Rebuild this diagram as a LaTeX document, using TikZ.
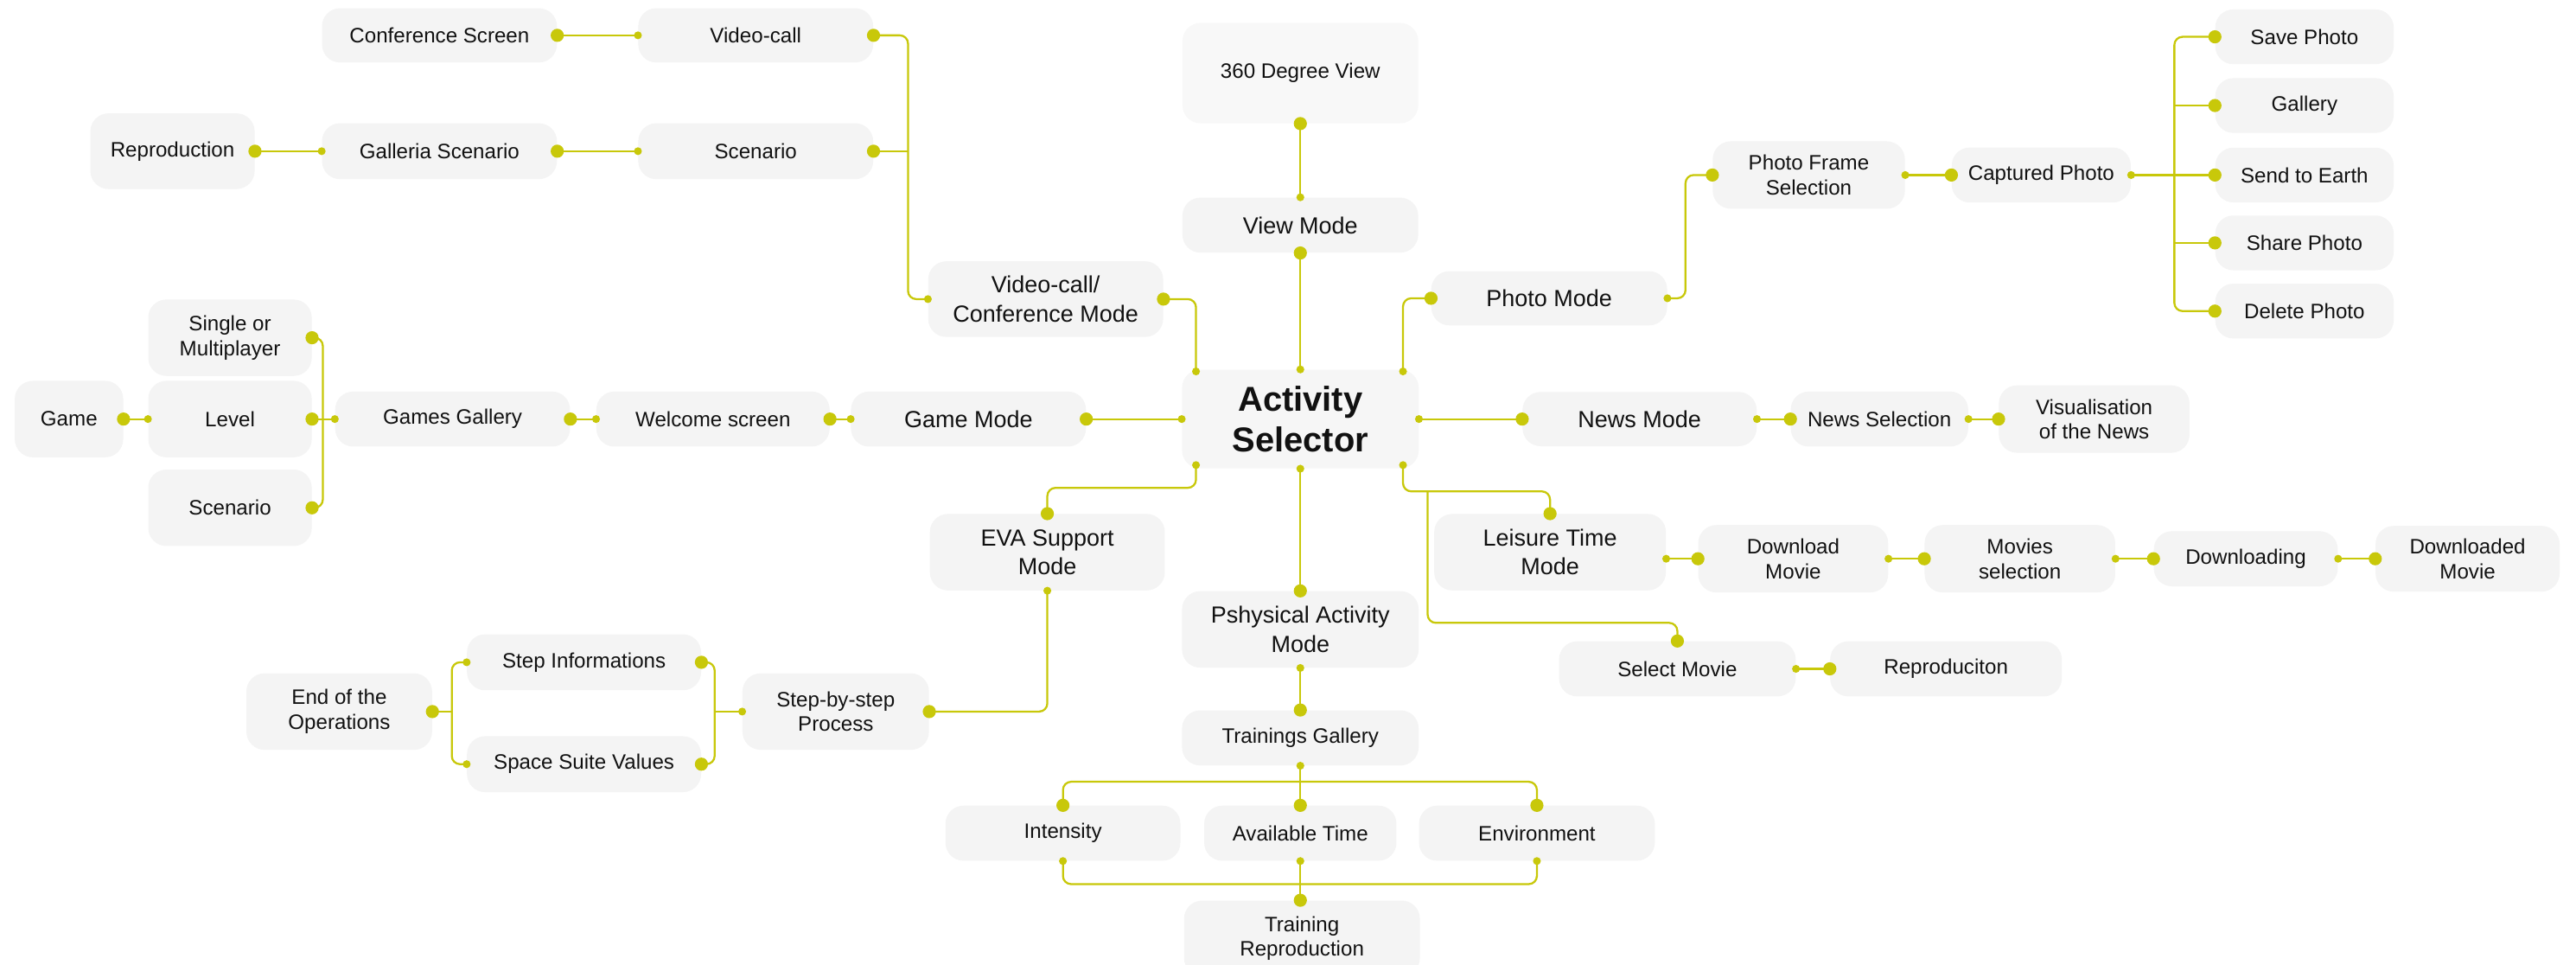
\documentclass[tikz,border=0pt]{standalone}
\usepackage{fontspec}
\setmainfont{Liberation Sans}
\definecolor{boxfill}{HTML}{F4F4F4}
\definecolor{wirec}{HTML}{C8C80A}
\definecolor{ink}{HTML}{111111}
\begin{document}
\begin{tikzpicture}[x=1pt,y=-1pt,
  box/.style={fill=boxfill, rounded corners=11pt, inner sep=0pt, align=center, text=ink,
              font=\fontsize{12.7}{15}\selectfont},
  modebox/.style={box, font=\fontsize{14.2}{17.5}\selectfont},
  hubbox/.style={box, fill=boxfill!95!black!40, font=\fontsize{21}{25}\selectfont\bfseries},
  sz/.style 2 args={minimum width=#1pt, minimum height=#2pt},
  wire/.style={draw=wirec, line width=1.2pt, rounded corners=5pt},
]
\clip (0,0) rectangle (1568,587);
\fill[white] (0,0) rectangle (1568,587);

% ---------- central hub ----------
\node[hubbox, sz={144}{60}] (act) at (791.5,255) {Activity\\Selector};
\coordinate (actTL) at (728,226);
\coordinate (actTR) at (854,226);
\coordinate (actBL) at (728,283);
\coordinate (actBR) at (854,283);

% ---------- video-call branch ----------
\node[box, sz={143}{33}] (cs) at (267.5,21.5) {Conference Screen};
\node[box, sz={143}{33}] (vc) at (460,21.5) {Video-call};
\node[box, sz={100}{46}] (rep) at (105,92) {Reproduction};
\node[box, sz={143}{34}] (gal) at (267.5,92) {Galleria Scenario};
\node[box, sz={143}{34}] (sc) at (460,92) {Scenario};
\node[modebox, sz={143}{46}] (vcm) at (636.5,182) {Video-call/\\Conference Mode};

% ---------- view branch ----------
\node[box, fill=boxfill!60!white, sz={143.5}{61}] (deg) at (791.5,44.5) {360 Degree View};
\node[modebox, sz={143.5}{33.5}] (vm) at (791.5,137) {View Mode};

% ---------- photo branch ----------
\node[modebox, sz={143.5}{33}] (pm) at (943,181.5) {Photo Mode};
\node[box, sz={117}{41}] (pfs) at (1101,106.5) {Photo Frame\\Selection};
\node[box, sz={109}{33.5}] (cp) at (1242.5,106.5) {Captured Photo};
\node[box, sz={108.6}{33.3}] (sp) at (1402.7,22.4) {Save Photo};
\node[box, sz={108.6}{33.3}] (gp) at (1402.7,64.2) {Gallery};
\node[box, sz={108.6}{33.3}] (se) at (1402.7,106.5) {Send to Earth};
\node[box, sz={108.6}{33.3}] (sh) at (1402.7,147.8) {Share Photo};
\node[box, sz={108.6}{33.3}] (dp) at (1402.7,189.3) {Delete Photo};
\coordinate (pbus) at (1323.5,106.5);

% ---------- game branch ----------
\node[box, sz={66}{46.5}] (game) at (42,255) {Game};
\node[box, sz={99.5}{46.5}] (lv) at (140,255) {Level};
\node[box, sz={99.5}{46.5}] (smp) at (140,205.5) {Single or\\Multiplayer};
\node[box, sz={99.5}{46.5}] (gsc) at (140,309) {Scenario};
\node[box, sz={143}{33.5}] (gg) at (275.5,255) {Games Gallery};
\node[box, sz={142}{33.5}] (ws) at (434,255) {Welcome screen};
\node[modebox, sz={143}{33.5}] (gm) at (589.5,255) {Game Mode};
\coordinate (gbus) at (196.5,255);

% ---------- news branch ----------
\node[modebox, sz={142.5}{33}] (nm) at (998,255) {News Mode};
\node[box, sz={108}{33.5}] (ns) at (1144,255) {News Selection};
\node[box, sz={116}{41}] (vn) at (1274.7,255) {Visualisation\\of the News};

% ---------- EVA branch ----------
\node[modebox, sz={143}{46.5}] (eva) at (637.5,336) {EVA Support\\Mode};
\node[box, sz={113.5}{46.5}] (sbs) at (508.7,433) {Step-by-step\\Process};
\node[box, sz={142.5}{34}] (si) at (355.5,403) {Step Informations};
\node[box, sz={142.5}{34}] (ss) at (355.5,465) {Space Suite Values};
\node[box, sz={113}{46.5}] (eo) at (206.5,433) {End of the\\Operations};
\coordinate (sbus) at (435,433);
\coordinate (ebus) at (275,433);

% ---------- physical activity branch ----------
\node[modebox, sz={144}{46.5}] (pa) at (791.5,383) {Pshysical Activity\\Mode};
\node[box, sz={144}{33.5}] (tg) at (791.5,449) {Trainings Gallery};
\node[box, sz={143}{33.5}] (int) at (647,507) {Intensity};
\node[box, sz={117}{33.5}] (at) at (791.5,507) {Available Time};
\node[box, sz={143.5}{33.5}] (env) at (935.5,507) {Environment};
\node[box, sz={143.5}{46}] (tr) at (792.5,571) {Training\\Reproduction};
\coordinate (tbusA) at (791.5,475.7);
\coordinate (tbusB) at (791.5,538);

% ---------- leisure branch ----------
\node[modebox, sz={141}{46.5}] (lt) at (943.5,336) {Leisure Time\\Mode};
\node[box, sz={115.6}{41}] (dm) at (1091.5,340) {Download\\Movie};
\node[box, sz={116}{41}] (ms) at (1229.5,340) {Movies\\selection};
\node[box, sz={112}{33.5}] (dl) at (1367,340) {Downloading};
\node[box, sz={112}{40}] (dlm) at (1502,340) {Downloaded\\Movie};
\node[box, sz={144}{33.5}] (smv) at (1021,407) {Select Movie};
\node[box, sz={141}{33.5}] (rpc) at (1184.5,407) {Reproduciton};
\coordinate (lbus) at (869,299);
\coordinate (ltout) at (dm.west -| lt.east);
\coordinate (trin) at (tr.north -| at.south);

% ---------- connectors ----------
\draw[wire] (cs.east) -- (vc.west);
\draw[wire] (vc.east) -- ++(21,0) |- (vcm.west);
\draw[wire] (sc.east) -- ++(21,0);
\draw[wire] (rep.east) -- (gal.west);
\draw[wire] (gal.east) -- (sc.west);
\draw[wire] (vcm.east) -| (actTL);

\draw[wire] (deg.south) -- (vm.north);
\draw[wire] (vm.south) -- (act.north);

\draw[wire] (pm.west) -| (actTR);
\draw[wire] (pm.east) -- ++(11,0) |- (pfs.west);
\draw[wire] (pfs.east) -- (cp.west);
\draw[wire] (cp.east) -- (se.west);
\draw[wire] (sp.west) -| (pbus) |- (dp.west);
\draw[wire] (gp.west) -- (gp.west -| pbus);
\draw[wire] (sh.west) -- (sh.west -| pbus);

\draw[wire] (game.east) -- (lv.west);
\draw[wire] (smp.east) -| (gbus) |- (gsc.east);
\draw[wire] (lv.east) -- (gg.west);
\draw[wire] (gg.east) -- (ws.west);
\draw[wire] (ws.east) -- (gm.west);
\draw[wire] (gm.east) -- (act.west);

\draw[wire] (nm.west) -- (act.east);
\draw[wire] (nm.east) -- (ns.west);
\draw[wire] (ns.east) -- (vn.west);

\draw[wire] (eva.north) -- ++(0,-15.7) -| (actBL);
\draw[wire] (sbs.east) -| (eva.south);
\draw[wire] (si.east) -| (sbus) |- (ss.east);
\draw[wire] (sbus) -- (sbs.west);
\draw[wire] (si.west) -| (ebus) |- (ss.west);
\draw[wire] (eo.east) -- (ebus);

\draw[wire] (pa.north) -- (act.south);
\draw[wire] (tg.north) -- (pa.south);
\draw[wire] (int.north) |- (tbusA) -| (env.north);
\draw[wire] (tg.south) -- (at.north);
\draw[wire] (int.south) |- (tbusB) -| (env.south);
\draw[wire] (at.south) -- (trin);

\draw[wire] (actBR) |- (lbus) -| (lt.north);
\draw[wire] (lbus) -- ++(0,80) -| (smv.north);
\draw[wire] (ltout) -- (dm.west);
\draw[wire] (dm.east) -- (ms.west);
\draw[wire] (ms.east) -- (dl.west);
\draw[wire] (dl.east) -- (dlm.west);
\draw[wire] (smv.east) -- (rpc.west);

% ---------- end dots ----------
\foreach \p in {cs.east, vc.east, sc.east, rep.east, gal.east, vcm.east, deg.south, vm.south,
  pm.west, pfs.west, cp.west, sp.west, gp.west, se.west, sh.west, dp.west,
  game.east, lv.east, smp.east, gsc.east, gg.east, ws.east, gm.east,
  eva.north, sbs.east, si.east, ss.east, eo.east,
  pa.north, tg.north, int.north, at.north, env.north, trin,
  nm.west, ns.west, vn.west, lt.north, smv.north, dm.west, ms.west, dl.west, dlm.west, rpc.west}
  \fill[wirec] (\p) circle (4pt);
\foreach \p in {vc.west, gal.west, sc.west, vcm.west, actTL, vm.north, act.north, actTR,
  pm.east, pfs.east, cp.east, lv.west, gg.west, ws.west, gm.west, act.west,
  actBL, eva.south, sbs.west, si.west, ss.west, act.south, pa.south, tg.south,
  int.south, at.south, env.south, act.east, nm.east, ns.east, actBR, ltout,
  dm.east, ms.east, dl.east, smv.east}
  \fill[wirec] (\p) circle (2.4pt);
\end{tikzpicture}
\end{document}
